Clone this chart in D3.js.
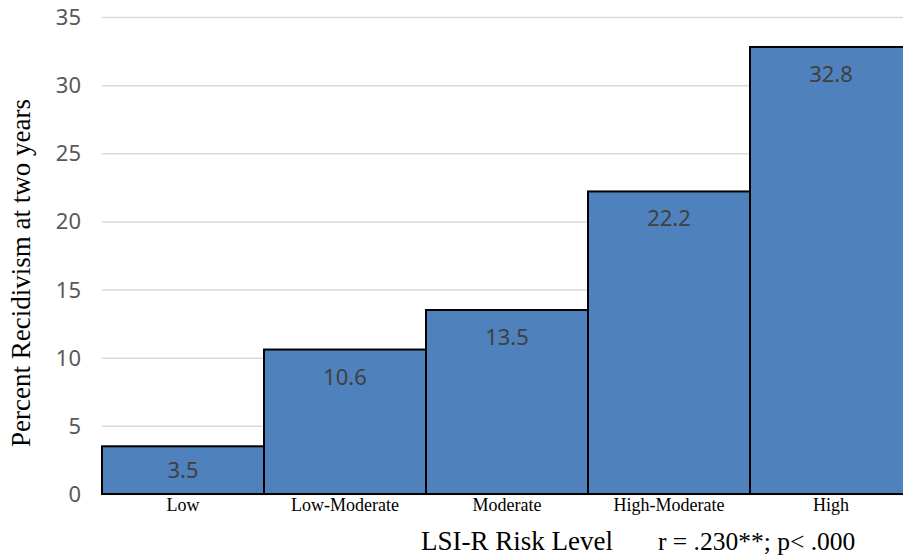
<!DOCTYPE html>
<html>
<head>
<meta charset="utf-8">
<script src="https://cdn.jsdelivr.net/npm/d3@7"></script>
<style>
  html, body { margin: 0; padding: 0; background: #fff; }
  svg { display: block; }
</style>
</head>
<body>
<script>
// Recidivism rate by LSI-R risk level
const categories = ["Low", "Low-Moderate", "Moderate", "High-Moderate", "High"];
const values = [3.5, 10.6, 13.5, 22.2, 32.8];
const yTicks = [0, 5, 10, 15, 20, 25, 30, 35];

const W = 903, H = 557;
const plot = { left: 102, right: 912, top: 17, bottom: 494 };
const serif = "'Liberation Serif', 'Times New Roman', serif";
const sans = "'Noto Sans', sans-serif";

const svg = d3.select("body").append("svg")
  .attr("width", W).attr("height", H);

const x = d3.scaleBand().domain(categories)
  .range([plot.left, plot.right]).padding(0);
const y = d3.scaleLinear().domain([0, 35])
  .range([plot.bottom, plot.top]);

// Horizontal gridlines
svg.append("g").selectAll("line").data(yTicks).join("line")
  .attr("x1", plot.left).attr("x2", W)
  .attr("y1", d => y(d) + 0.5).attr("y2", d => y(d) + 0.5)
  .attr("stroke", "#d9d9d9").attr("stroke-width", 1.5);

// Y tick labels
const yAxis = d3.axisLeft(y).tickValues(yTicks).tickSize(0).tickPadding(0);
const gy = svg.append("g").attr("transform", "translate(81,0)").call(yAxis);
gy.select(".domain").remove();
gy.selectAll("text")
  .attr("font-family", sans)
  .attr("font-size", 22)
  .attr("fill", "#595959")
  .attr("dy", "0.34em");

// Bars
svg.append("g").selectAll("rect").data(values).join("rect")
  .attr("x", (d, i) => x(categories[i]))
  .attr("y", d => y(d))
  .attr("width", x.bandwidth())
  .attr("height", d => y(0) - y(d))
  .attr("fill", "#4f81bd")
  .attr("stroke", "#000")
  .attr("stroke-width", 2);

// Value labels inside bar tops
svg.append("g").selectAll("text").data(values).join("text")
  .attr("x", (d, i) => x(categories[i]) + x.bandwidth() / 2)
  .attr("y", d => Math.min(y(d) + 35, (y(d) + y(0)) / 2 + 8))
  .attr("text-anchor", "middle")
  .attr("font-family", sans)
  .attr("font-size", 22)
  .attr("fill", "#404040")
  .text(d => d.toFixed(1));

// Category labels
const xAxis = d3.axisBottom(x).tickSize(0).tickPadding(0);
const gx = svg.append("g").attr("transform", `translate(0,${plot.bottom})`).call(xAxis);
gx.select(".domain").remove();
gx.selectAll("text")
  .attr("font-family", serif)
  .attr("font-size", 18)
  .attr("fill", "#000")
  .attr("y", 17)
  .attr("dy", 0);

// Axis titles
svg.append("text")
  .attr("x", 517).attr("y", 550)
  .attr("text-anchor", "middle")
  .attr("font-family", serif)
  .attr("font-size", 27)
  .attr("fill", "#000")
  .text("LSI-R Risk Level");

svg.append("text")
  .attr("x", 658).attr("y", 550)
  .attr("font-family", serif)
  .attr("font-size", 25.5)
  .attr("fill", "#000")
  .text("r = .230**; p< .000");

svg.append("text")
  .attr("transform", "translate(30,273) rotate(-90)")
  .attr("text-anchor", "middle")
  .attr("font-family", serif)
  .attr("font-size", 27)
  .attr("fill", "#000")
  .text("Percent Recidivism at two years");
</script>
</body>
</html>
